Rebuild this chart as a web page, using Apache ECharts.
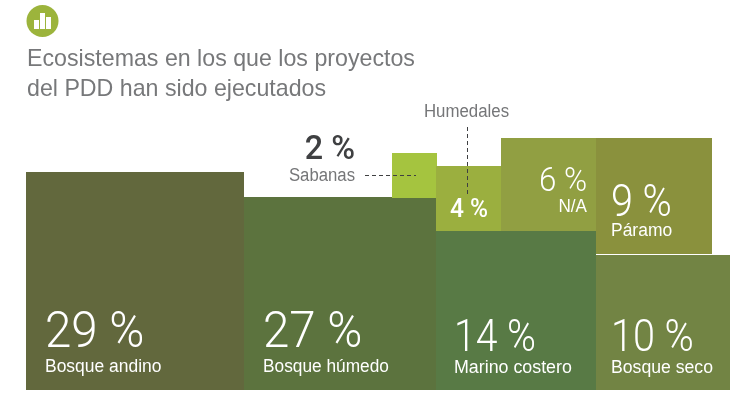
<!DOCTYPE html>
<html>
<head>
<meta charset="utf-8">
<title>Ecosistemas</title>
<script src="https://cdn.jsdelivr.net/npm/echarts@6/dist/echarts.min.js"></script>
<style>
  html, body { margin: 0; padding: 0; background: #fff; }
  #chart { width: 730px; height: 400px; }
</style>
</head>
<body>
<div id="chart"></div>
<script>
// ecosystems, drawn back to front so that Sabanas sits over Bosque humedo
const names = ["Bosque andino", "Bosque húmedo", "Sabanas", "Humedales", "N/A", "Marino costero", "Páramo", "Bosque seco"];
const shares = [29, 27, 2, 4, 6, 14, 9, 10];
// block extents, in axis units
const blockStart = [0, 218, 366, 410, 475, 410, 570, 570];
const blockWidth = [218, 192, 45, 65, 95, 160, 116, 134];
const blockBase = [0, 0, 192, 159, 159, 0, 136, 0];
const blockHeight = [218, 193, 45, 65, 93, 159, 116, 135];
const blockColors = ["#62683d", "#5c733e", "#a5c43f", "#9baf3f", "#919f42", "#587a45", "#8a913d", "#728444"];

const BIG_FONT = "Roboto";
const SMALL_FONT = "'Liberation Sans'";
const WHITE = "#fff";
const GREY = "#757678";

// where each pair of texts goes: big = percentage, small = name
const textStyles = [
  { x: 45, bigY: 334, bigSize: 50, bigScale: 0.95, smallY: 367, smallSize: 18, smallScale: 0.97 },
  { x: 263, bigY: 334, bigSize: 50, bigScale: 0.95, smallY: 367, smallSize: 18, smallScale: 0.96 },
  { x: 355, bigY: 150, bigSize: 34, bigScale: 0.95, smallY: 176, smallSize: 18, smallScale: 0.93, align: "right", bigColor: "#3f4042", smallColor: GREY, bigWeight: 500 },
  { x: 469, bigY: 211, bigSize: 25, bigScale: 0.98, align: "center", bigWeight: 500 },
  { x: 587, bigY: 182, bigSize: 34, bigScale: 0.92, smallY: 207, smallSize: 18, smallScale: 0.95, align: "right" },
  { x: 454, bigY: 340, bigSize: 45, bigScale: 0.87, smallY: 368, smallSize: 18, smallScale: 0.99 },
  { x: 611, bigY: 205, bigSize: 44, bigScale: 0.9, smallY: 231, smallSize: 18, smallScale: 0.97 },
  { x: 611, bigY: 340, bigSize: 45, bigScale: 0.88, smallY: 368, smallSize: 18, smallScale: 0.98 },
];

function textEl(text, x, y, font, color, align, scale) {
  return {
    type: "text",
    z: 10,
    x: x,
    y: y,
    scaleX: scale || 1,
    style: {
      text: text,
      x: 0,
      y: 0,
      fill: color,
      font: font,
      textAlign: align || "left",
      textVerticalAlign: "middle",
    },
  };
}

function blockTexts() {
  let els = [];
  names.forEach((name, i) => {
    const s = textStyles[i];
    const bigFont = (s.bigWeight || 300) + " " + s.bigSize + "px " + BIG_FONT;
    els.push(textEl(shares[i] + " %", s.x, s.bigY, bigFont, s.bigColor || WHITE, s.align, s.bigScale));
    // Humedales keeps its name outside the block
    if (s.smallY) {
      els.push(textEl(name, s.x, s.smallY, s.smallSize + "px " + SMALL_FONT, s.smallColor || WHITE, s.align, s.smallScale));
    }
  });
  els.push(textEl("Humedales", 466.5, 112, "18px " + SMALL_FONT, GREY, "center", 0.935));
  return els;
}

function dashedLine(x1, y1, x2, y2) {
  return {
    type: "line",
    z: 10,
    shape: { x1: x1, y1: y1, x2: x2, y2: y2 },
    style: { stroke: "#3f4042", lineWidth: 1, lineDash: [4, 3] },
  };
}

function iconBar(x, y, h) {
  return { type: "rect", z: 10, shape: { x: x, y: y, width: 5, height: h }, style: { fill: "#fff" } };
}

const myChart = echarts.init(document.getElementById("chart"));

myChart.setOption({
  animation: false,
  grid: { left: 26, right: 0, top: 138, bottom: 10 },
  xAxis: { type: "value", min: 0, max: 704, show: false },
  yAxis: { type: "value", min: 0, max: 252, show: false },
  series: [
    {
      type: "custom",
      silent: true,
      data: names.map((name, i) => [blockStart[i], blockBase[i], blockWidth[i], blockHeight[i]]),
      encode: { x: 0, y: 1 },
      renderItem(params, api) {
        const start = api.coord([api.value(0), api.value(1) + api.value(3)]);
        const end = api.coord([api.value(0) + api.value(2), api.value(1)]);
        return {
          type: "rect",
          shape: { x: start[0], y: start[1], width: end[0] - start[0], height: end[1] - start[1] },
          style: { fill: blockColors[params.dataIndex] },
        };
      },
    },
  ],
  graphic: [
    { type: "circle", shape: { cx: 42.5, cy: 21, r: 16 }, style: { fill: "#9cb43c" } },
    iconBar(34, 20, 9),
    iconBar(40, 13, 16),
    iconBar(46, 17, 12),
    {
      type: "text",
      style: {
        text: "Ecosistemas en los que los proyectos\ndel PDD han sido ejecutados",
        x: 27,
        y: 45,
        fill: "#77787a",
        font: "23.2px " + SMALL_FONT,
        lineHeight: 30,
      },
    },
    dashedLine(365, 175.5, 416, 175.5),
    dashedLine(467.5, 127, 467.5, 194),
    ...blockTexts(),
  ],
});
</script>
</body>
</html>
